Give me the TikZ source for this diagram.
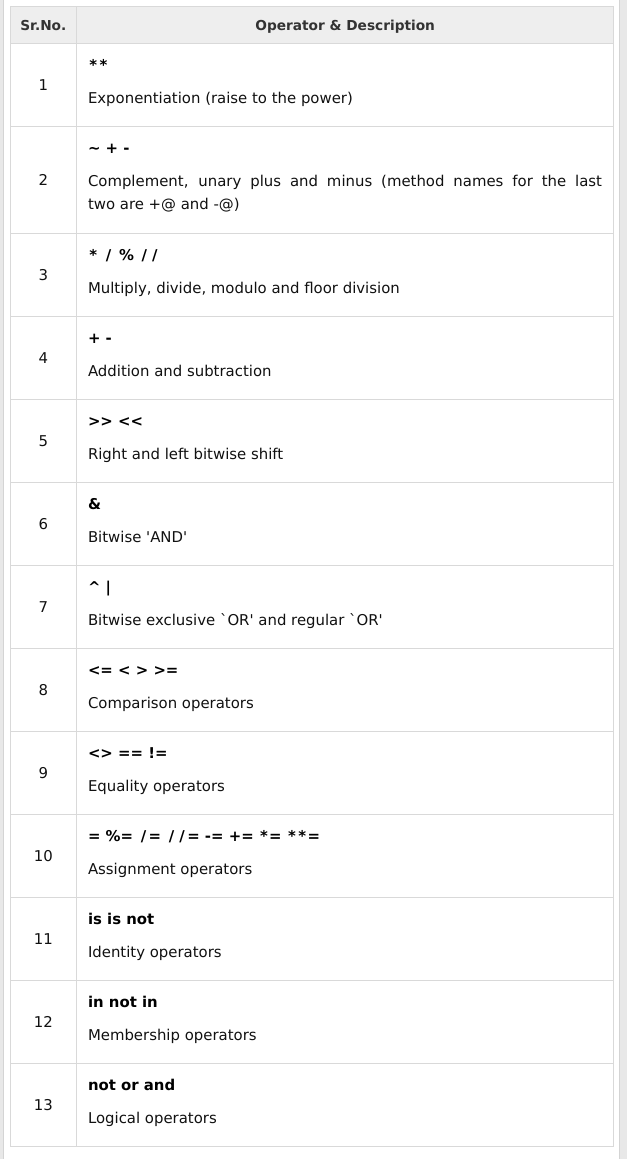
\documentclass[tikz,border=0pt]{standalone}
\usepackage{fontspec}
\newfontfamily\vf{DejaVu Sans}
\definecolor{bordc}{HTML}{D9D9D9}
\definecolor{headbg}{HTML}{EEEEEE}
\definecolor{stripc}{HTML}{E8E8E8}
\definecolor{striplc}{HTML}{D4D4D4}
\definecolor{headtxt}{HTML}{333333}
\definecolor{bodytxt}{HTML}{111111}
\newcommand\wsl{\kern2.5pt/\kern2.5pt}
\newcommand\wst{\kern1.25pt*\kern1.25pt}
\newcommand\oprow[4]{%
  \node[numtxt,anchor=base] (n#1) at (43.35,#2+47.5) {#1};
  \node[optxt,anchor=base west] (o#1) at (88,#2+27) {#3};
  \node[desctxt,anchor=base west] (d#1) at (88,#2+60) {#4};
  \draw[bordline] (10,#2+83) -- (613.7,#2+83);
}
\begin{document}
\begin{tikzpicture}[x=1pt,y=-1pt,
  every node/.style={inner sep=0pt,outer sep=0pt},
  bordline/.style={draw=bordc,line width=1pt},
  numtxt/.style={font=\vf\fontsize{14.9}{18}\selectfont,text=bodytxt},
  optxt/.style={font=\vf\bfseries\fontsize{14.9}{18}\selectfont,text=black},
  desctxt/.style={font=\vf\fontsize{14.9}{18}\selectfont,text=bodytxt},
  headtext/.style={font=\vf\bfseries\fontsize{13.7}{16}\selectfont,text=headtxt}]
\useasboundingbox (0,0) rectangle (627,1159);
\fill[white] (0,0) rectangle (627,1159);
% side strips
\fill[stripc] (0,0) rectangle (3.3,1159);
\draw[striplc,line width=0.8pt] (3.3,0) -- (3.3,1159);
\fill[stripc] (619,0) rectangle (627,1159);
\draw[striplc,line width=0.8pt] (619,0) -- (619,1159);
% header
\fill[headbg] (10,6) rectangle (613.7,43.3);
\node[headtext,anchor=base] (h1) at (43.35,30.7) {Sr.No.};
\node[headtext,anchor=base] (h2) at (345.2,30.7) {Operator \& Description};
\draw[bordline] (10,6) -- (613.7,6);
\draw[bordline] (10,43.3) -- (613.7,43.3);
% rows
\oprow{1}{43.3}{\wst\wst}{Exponentiation (raise to the power)}
% row 2
\node[numtxt,anchor=base] (n2) at (43.35,185.3) {2};
\node[optxt,anchor=base west] (o2) at (88,153.3) {\textasciitilde{} + -};
\node[desctxt,anchor=base west] (d2a) at (88,186.3) {\makebox[514pt][s]{Complement, unary plus and minus (method names for the last}};
\node[desctxt,anchor=base west] (d2b) at (88,209.3) {two are +@ and -@)};
\draw[bordline] (10,233.3) -- (613.7,233.3);
\oprow{3}{233.3}{\wst{} \wsl{} \% \wsl\wsl}{Multiply, divide, modulo and floor division}
\oprow{4}{316.3}{+ -}{Addition and subtraction}
\oprow{5}{399.3}{>> <<}{Right and left bitwise shift}
\oprow{6}{482.3}{\&}{Bitwise 'AND'}
\oprow{7}{565.3}{\textasciicircum{} |}{Bitwise exclusive `OR' and regular `OR'}
\oprow{8}{648.3}{<= < > >=}{Comparison operators}
\oprow{9}{731.3}{<> == !=}{Equality operators}
\oprow{10}{814.3}{= \%= \wsl= \wsl\wsl= -= += \wst= \wst\wst=}{Assignment operators}
\oprow{11}{897.3}{is is not}{Identity operators}
\oprow{12}{980.3}{in not in}{Membership operators}
\oprow{13}{1063.3}{not or and}{Logical operators}
% vertical borders
\draw[bordline] (10,6) -- (10,1146.3);
\draw[bordline] (76.7,6) -- (76.7,1146.3);
\draw[bordline] (613.7,6) -- (613.7,1146.3);
\end{tikzpicture}
\end{document}
